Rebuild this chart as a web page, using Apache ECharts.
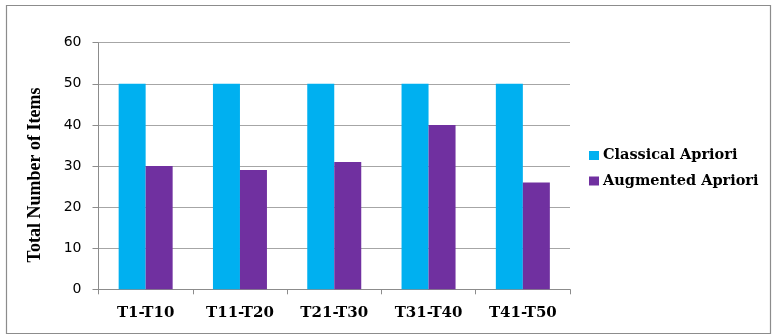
<!DOCTYPE html>
<html><head><meta charset="utf-8">
<script src="https://cdn.jsdelivr.net/npm/echarts@6/dist/echarts.min.js"></script>
<style>html,body{margin:0;padding:0;background:#fff;}#c{width:773px;height:336px;}</style>
</head><body><div id="c"></div>
<script>
const categories = ["T1-T10", "T11-T20", "T21-T30", "T31-T40", "T41-T50"];
const classicalApriori = [50, 50, 50, 50, 50];
const augmentedApriori = [30, 29, 31, 40, 26];
const seriesNames = ["Classical Apriori", "Augmented Apriori"];
const yTicks = { min: 0, max: 60, interval: 10 };
const yTitle = "Total Number of Items";

const chart = echarts.init(document.getElementById('c'), null, { renderer: 'canvas' });
const serif = '"Liberation Serif", "Times New Roman", serif';
const wideSerif = '"DejaVu Serif", "Liberation Serif", serif';
chart.setOption({
  animation: false,
  backgroundColor: '#fff',
  grid: { left: 98.5, right: 203, top: 42.7, bottom: 46.7, containLabel: false },
  legend: {
    orient: 'vertical', left: 589, top: 148, padding: 0,
    itemWidth: 10, itemHeight: 9, itemGap: 10.5,
    icon: 'rect',
    textStyle: { fontFamily: wideSerif, fontWeight: 'bold', fontSize: 14.5, lineHeight: 14, color: '#000', padding: [0,0,0,-1] },
    data: seriesNames
  },
  xAxis: {
    type: 'category', data: categories,
    axisLine: { lineStyle: { color: '#8c8c8c', width: 1 } },
    axisTick: { show: true, length: 5, lineStyle: { color: '#8c8c8c' } },
    axisLabel: { fontFamily: wideSerif, fontWeight: 'bold', fontSize: 15, color: '#000', margin: 16 }
  },
  yAxis: {
    type: 'value', min: yTicks.min, max: yTicks.max, interval: yTicks.interval,
    axisLine: { show: true, lineStyle: { color: '#8c8c8c', width: 1 } },
    axisTick: { show: true, length: 6, inside: false, lineStyle: { color: '#8c8c8c' } },
    splitLine: { lineStyle: { color: '#a6a6a6', width: 1 } },
    axisLabel: { fontFamily: '"DejaVu Sans", Verdana, sans-serif', fontSize: 14, color: '#000', margin: 17 }
  },
  graphic: [
    { type: 'rect', shape: { x: 6.5, y: 5.5, width: 764, height: 328 }, style: { fill: 'none', stroke: '#8c8c8c', lineWidth: 1.2 }, silent: true, z: -1 },
    { type: 'text', x: 35, y: 175, rotation: Math.PI / 2,
      style: { text: yTitle, fontFamily: serif, fontWeight: 'bold', fontSize: 18, fill: '#000', align: 'center', verticalAlign: 'middle' } }
  ],
  series: [
    { name: seriesNames[0], type: 'bar', data: classicalApriori, barWidth: 27, barGap: '0%', itemStyle: { color: '#00B0F0' } },
    { name: seriesNames[1], type: 'bar', data: augmentedApriori, barWidth: 27, barGap: '0%', itemStyle: { color: '#7030A0' } }
  ]
});
</script></body></html>
